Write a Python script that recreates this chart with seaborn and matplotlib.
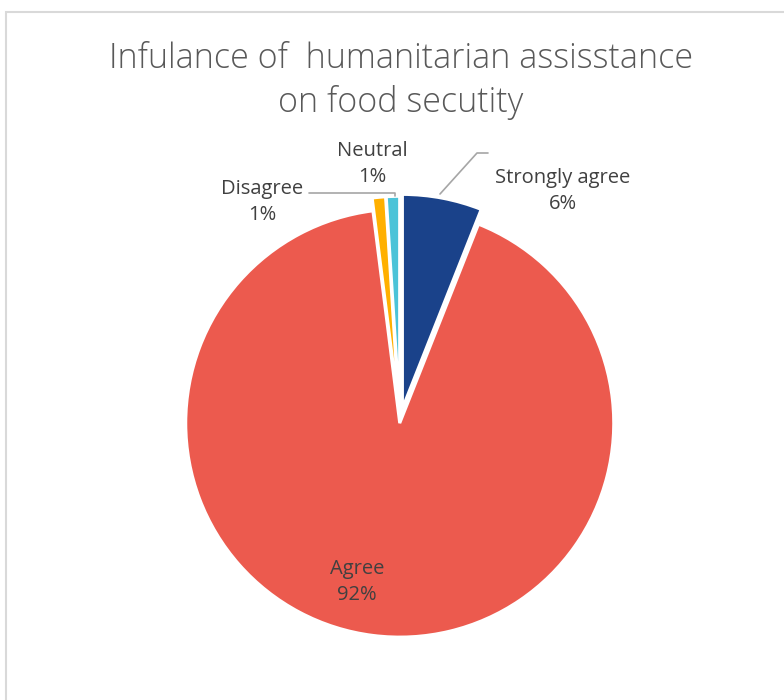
import matplotlib
matplotlib.use("Agg")
import matplotlib.pyplot as plt
import seaborn as sns
from matplotlib.patches import Rectangle
from matplotlib.lines import Line2D

# ---- data ----
categories = ["Strongly agree", "Agree", "Disagree", "Neutral"]
values = [6, 92, 1, 1]
pct_labels = ["6%", "92%", "1%", "1%"]
title = "Infulance of  humanitarian assisstance\non food secutity"

sns.set_theme(style="white")
plt.rcParams['font.family'] = ['Open Sans', 'DejaVu Sans']

colors = ["#1A428A", "#EC5A4E", "#FFB000", "#4BC3D8"]

W, H = 784, 700
fig = plt.figure(figsize=(W / 100, H / 100), dpi=100)
fig.patch.set_facecolor("white")

# pie axes: centre at pixel (400, 421), radius 214 px
R = 214.0
cx, cy = 400.0, 421.0
ax = fig.add_axes([0, 0, 1, 1])

ax.pie(values, colors=colors, startangle=90, counterclock=False,
       explode=[0.06, 0.01, 0.05, 0.05], radius=1.0,
       wedgeprops=dict(edgecolor="white", linewidth=2.2))
ax.set_xlim(-cx / R, (W - cx) / R)
ax.set_ylim(-(H - cy) / R, cy / R)
ax.axis("off")

# frame border
fig.patches.append(Rectangle((6 / W, -0.1), 1.2, 1 - 12 / H + 0.1,
                             transform=fig.transFigure, fill=False,
                             edgecolor="#D9D9D9", linewidth=1.5))

def fx(px):
    return px / W

def fy(py):
    return 1 - py / H

# title
fig.text(fx(401), fy(81), title, ha="center", va="center", fontsize=24.5,
         color="#595959", linespacing=1.33, fontweight="light")

txt_color = "#404040"
label_pos = {
    "Strongly agree": (563, 191),
    "Agree": (357, 582),
    "Disagree": (262, 202),
    "Neutral": (372, 164),
}
for cat, pct in zip(categories, pct_labels):
    x, y = label_pos[cat]
    fig.text(fx(x), fy(y), f"{cat}\n{pct}", ha="center", va="center",
             fontsize=14.5, color=txt_color, linespacing=1.45)

# leader lines
lc = "#A6A6A6"
fig.add_artist(Line2D([fx(440), fx(477), fx(488)], [fy(194), fy(153), fy(153)],
                      transform=fig.transFigure, color=lc, linewidth=1.2))
fig.add_artist(Line2D([fx(309), fx(395), fx(395)], [fy(193), fy(193), fy(196)],
                      transform=fig.transFigure, color=lc, linewidth=1.2))

fig.savefig("out.png", dpi=100, facecolor="white")
